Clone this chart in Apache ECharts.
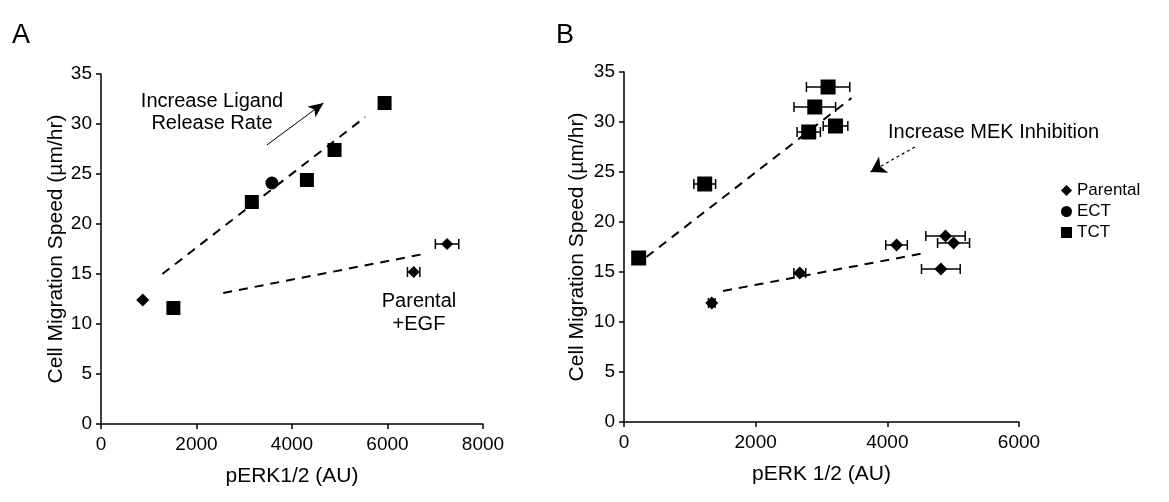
<!DOCTYPE html>
<html>
<head>
<meta charset="utf-8">
<script src="https://cdn.jsdelivr.net/npm/echarts@6/dist/echarts.min.js"></script>
<style>
  html, body { margin: 0; padding: 0; background: #fff; }
  #chart { width: 1169px; height: 502px; }
</style>
</head>
<body>
<div id="chart"></div>
<script>
// panel A: pERK1/2 vs migration speed
const parentalA = [[874, 12.4]];
const ectA = [[3579, 24.1]];
const tctA = [[1516, 11.6], [3159, 22.2], [4312, 24.4], [4891, 27.4], [5939, 32.1]];
const egfA = [[6548, 15.2, 130], [7247, 18.0, 245]];   // x, y, x error
const trendA1 = [[1285, 15.0], [5535, 30.7]];
const trendA2 = [[2560, 13.1], [6760, 17.0]];
const arrowA = [[3474, 27.9], [4660, 32.1]];

// panel B: MEK inhibition
const parentalB = [[1333, 11.9, 50], [2670, 14.9, 90], [4140, 17.7, 164], [4884, 18.6, 299], [5006, 17.9, 243], [4813, 15.3, 294]];
const tctB = [[223, 16.4, 0], [1226, 23.8, 165], [2806, 29.0, 177], [2898, 31.5, 316], [3100, 33.5, 329], [3213, 29.6, 187]];
const trendB1 = [[340, 16.5], [3456, 32.4]];
const trendB2 = [[1505, 13.1], [4570, 16.9]];
const arrowB = [[4418, 27.5], [3745, 25.0]];

const xTicksA = [0, 2000, 4000, 6000, 8000];
const xTicksB = [0, 2000, 4000, 6000];
const yTicks = [0, 5, 10, 15, 20, 25, 30, 35];

const FONT = "'Liberation Sans', Arial, sans-serif";
const chart = echarts.init(document.getElementById('chart'));

const errorBars = (data, xi, yi) => ({
    type: 'custom',
    xAxisIndex: xi,
    yAxisIndex: yi,
    silent: true,
    z: 1,
    data: data,
    renderItem: (params, api) => {
        const x = api.value(0), y = api.value(1), e = api.value(2);
        if (!e) return;
        const l = api.coord([x - e, y]);
        const r = api.coord([x + e, y]);
        const st = {stroke: '#000', lineWidth: 1.5};
        return {
            type: 'group',
            children: [
                {type: 'line', shape: {x1: l[0], y1: l[1], x2: r[0], y2: r[1]}, style: st},
                {type: 'line', shape: {x1: l[0], y1: l[1] - 5, x2: l[0], y2: l[1] + 5}, style: st},
                {type: 'line', shape: {x1: r[0], y1: r[1] - 5, x2: r[0], y2: r[1] + 5}, style: st}
            ]
        };
    }
});

const trend = (data, xi, yi) => ({
    type: 'line',
    xAxisIndex: xi,
    yAxisIndex: yi,
    data: data,
    symbol: 'none',
    silent: true,
    lineStyle: {color: '#000', width: 2, type: [9, 7]}
});

const arrow = (data, xi, yi, style, size) => ({
    type: 'line',
    xAxisIndex: xi,
    yAxisIndex: yi,
    data: [],
    markLine: {
        silent: true,
        symbol: ['none', 'arrow'],
        symbolSize: size,
        label: {show: false},
        itemStyle: {color: '#000'},
        lineStyle: Object.assign({color: '#000', width: 1}, style),
        data: [[{coord: data[0]}, {coord: data[1]}]]
    }
});

const dot = {color: '#000', opacity: 1};

const axisCommon = {
    axisLine: {lineStyle: {color: '#000', width: 1.5}},
    axisTick: {inside: false, length: 5, lineStyle: {color: '#000', width: 1.5}},
    splitLine: {show: false},
    axisLabel: {color: '#000', fontSize: 19, fontFamily: FONT, formatter: v => String(v)},
    nameTextStyle: {color: '#000', fontSize: 21, fontFamily: FONT}
};

const yAxis = (i, gap) => Object.assign({}, axisCommon, {
    gridIndex: i, type: 'value', min: yTicks[0], max: yTicks[yTicks.length - 1], interval: 5,
    name: 'Cell Migration Speed (\u00b5m/hr)', nameLocation: 'middle', nameGap: gap,
    axisLabel: Object.assign({}, axisCommon.axisLabel, {margin: 9})
});

const option = {
    animation: false,
    backgroundColor: '#fff',
    grid: [
        {left: 101, top: 74, width: 382, height: 350},
        {left: 624, top: 72, width: 395, height: 350}
    ],
    xAxis: [
        Object.assign({}, axisCommon, {
            gridIndex: 0, type: 'value', min: xTicksA[0], max: xTicksA[xTicksA.length - 1], interval: 2000,
            name: 'pERK1/2 (AU)', nameLocation: 'middle', nameGap: 42,
            axisLabel: Object.assign({}, axisCommon.axisLabel, {margin: 11})
        }),
        Object.assign({}, axisCommon, {
            gridIndex: 1, type: 'value', min: xTicksB[0], max: xTicksB[xTicksB.length - 1], interval: 2000,
            name: 'pERK 1/2 (AU)', nameLocation: 'middle', nameGap: 42,
            axisLabel: Object.assign({}, axisCommon.axisLabel, {margin: 11})
        })
    ],
    yAxis: [yAxis(0, 33), yAxis(1, 36)],
    legend: {
        orient: 'vertical',
        left: 1056,
        top: 177,
        itemGap: 4,
        itemWidth: 11,
        itemHeight: 11,
        textStyle: {color: '#000', fontSize: 17, fontFamily: FONT},
        data: [
            {name: 'Parental', icon: 'diamond'},
            {name: 'ECT', icon: 'circle'},
            {name: 'TCT', icon: 'rect'}
        ]
    },
    graphic: [
        {type: 'text', left: 12, top: 22, style: {text: 'A', font: '27px ' + FONT, fill: '#000'}},
        {type: 'text', left: 556, top: 22, style: {text: 'B', font: '27px ' + FONT, fill: '#000'}},
        {type: 'text', x: 212, y: 112, style: {text: 'Increase Ligand\nRelease Rate', font: '20px ' + FONT, fill: '#000', align: 'center', verticalAlign: 'middle', lineHeight: 22}},
        {type: 'text', x: 419, y: 313, style: {text: 'Parental\n+EGF', font: '20px ' + FONT, fill: '#000', align: 'center', verticalAlign: 'middle', lineHeight: 23}},
        {type: 'text', x: 888, y: 132, style: {text: 'Increase MEK Inhibition', font: '20px ' + FONT, fill: '#000', align: 'left', verticalAlign: 'middle'}}
    ],
    series: [
        trend(trendA1, 0, 0),
        trend(trendA2, 0, 0),
        arrow(arrowA, 0, 0, {type: 'solid', width: 1}, [10, 15]),
        errorBars(egfA, 0, 0),
        {name: 'Parental', type: 'scatter', xAxisIndex: 0, yAxisIndex: 0, data: parentalA, symbol: 'diamond', symbolSize: 13, itemStyle: dot},
        {name: 'Parental +EGF', type: 'scatter', xAxisIndex: 0, yAxisIndex: 0, data: egfA, symbol: 'diamond', symbolSize: 12, itemStyle: dot},
        {name: 'ECT', type: 'scatter', xAxisIndex: 0, yAxisIndex: 0, data: ectA, symbol: 'circle', symbolSize: 13, itemStyle: dot},
        {name: 'TCT', type: 'scatter', xAxisIndex: 0, yAxisIndex: 0, data: tctA, symbol: 'rect', symbolSize: 14, itemStyle: dot},

        trend(trendB1, 1, 1),
        trend(trendB2, 1, 1),
        arrow(arrowB, 1, 1, {type: [3, 3], width: 1.2}, [14, 15]),
        errorBars(parentalB, 1, 1),
        errorBars(tctB, 1, 1),
        {name: 'Parental', type: 'scatter', xAxisIndex: 1, yAxisIndex: 1, data: parentalB, symbol: 'diamond', symbolSize: 13, itemStyle: dot},
        {name: 'TCT', type: 'scatter', xAxisIndex: 1, yAxisIndex: 1, data: tctB, symbol: 'rect', symbolSize: 15, itemStyle: dot}
    ]
};

chart.setOption(option);
</script>
</body>
</html>
